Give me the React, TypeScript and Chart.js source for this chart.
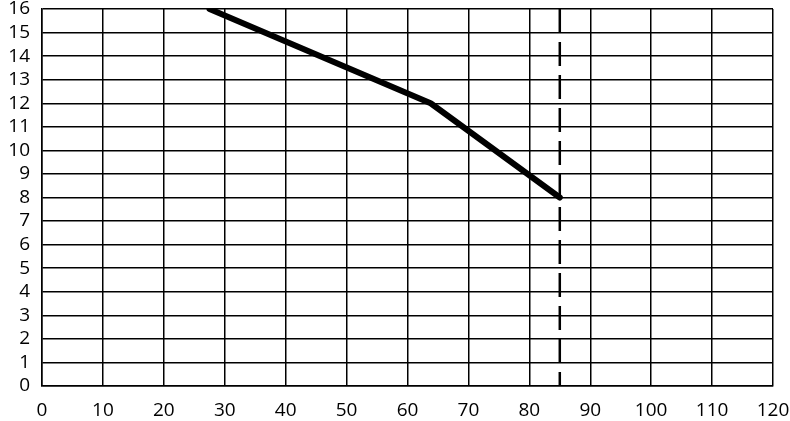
import React, { useEffect, useRef } from "react";
import { Chart, registerables } from "chart.js";

Chart.register(...registerables);

const xTicks = [0, 10, 20, 30, 40, 50, 60, 70, 80, 90, 100, 110, 120];
const yTicks = [0, 1, 2, 3, 4, 5, 6, 7, 8, 9, 10, 11, 12, 13, 14, 15, 16];
const curveX = [27.5, 63.8, 85];
const curveY = [16, 12, 8];
const limitX = [85, 85];
const limitY = [16, 0];

export default function App() {
  const ref = useRef<HTMLCanvasElement | null>(null);
  useEffect(() => {
    document.body.style.margin = "0";
    const ctx = ref.current!;
    const chart = new Chart(ctx, {
      type: "line",
      data: {
        datasets: [
          {
            data: curveX.map((x, i) => ({ x, y: curveY[i] })),
            borderColor: "#000",
            borderWidth: 6,
            pointRadius: 0,
            borderCapStyle: "round",
            borderJoinStyle: "round",
            tension: 0,
          },
          {
            data: limitX.map((x, i) => ({ x, y: limitY[i] })),
            borderColor: "#000",
            borderWidth: 2.5,
            borderDash: [24, 9],
            pointRadius: 0,
            tension: 0,
          },
        ],
      },
      options: {
        animation: false,
        responsive: false,
        maintainAspectRatio: false,
        layout: { padding: { top: 9, right: 17, left: 0, bottom: 0 } },
        plugins: { legend: { display: false }, tooltip: { enabled: false } },
        scales: {
          x: {
            type: "linear",
            min: xTicks[0],
            max: xTicks[xTicks.length - 1],
            afterBuildTicks: (s: any) => {
              s.ticks = xTicks.map((v) => ({ value: v }));
            },
            afterFit: (s: any) => {
              s.height = 35;
              s.paddingLeft = 0;
              s.paddingRight = 0;
            },
            grid: { color: "#000", lineWidth: 1.5, drawTicks: false },
            border: { color: "#000", width: 1.5 },
            ticks: {
              color: "#000",
              padding: 13,
              maxRotation: 0,
              autoSkip: false,
              font: { family: "Open Sans", size: 19 },
            },
          },
          y: {
            type: "linear",
            min: yTicks[0],
            max: yTicks[yTicks.length - 1],
            afterBuildTicks: (s: any) => {
              s.ticks = yTicks.map((v) => ({ value: v }));
            },
            afterFit: (s: any) => {
              s.width = 42;
              s.paddingTop = 0;
              s.paddingBottom = 0;
            },
            grid: { color: "#000", lineWidth: 1.5, drawTicks: false },
            border: { color: "#000", width: 1.5 },
            ticks: {
              color: "#000",
              padding: 12,
              autoSkip: false,
              font: { family: "Open Sans", size: 19 },
            },
          },
        },
      },
    });
    return () => chart.destroy();
  }, []);
  return (
    <div style={{ width: 790, height: 421 }}>
      <canvas ref={ref} width={790} height={421} style={{ width: 790, height: 421 }} />
    </div>
  );
}
